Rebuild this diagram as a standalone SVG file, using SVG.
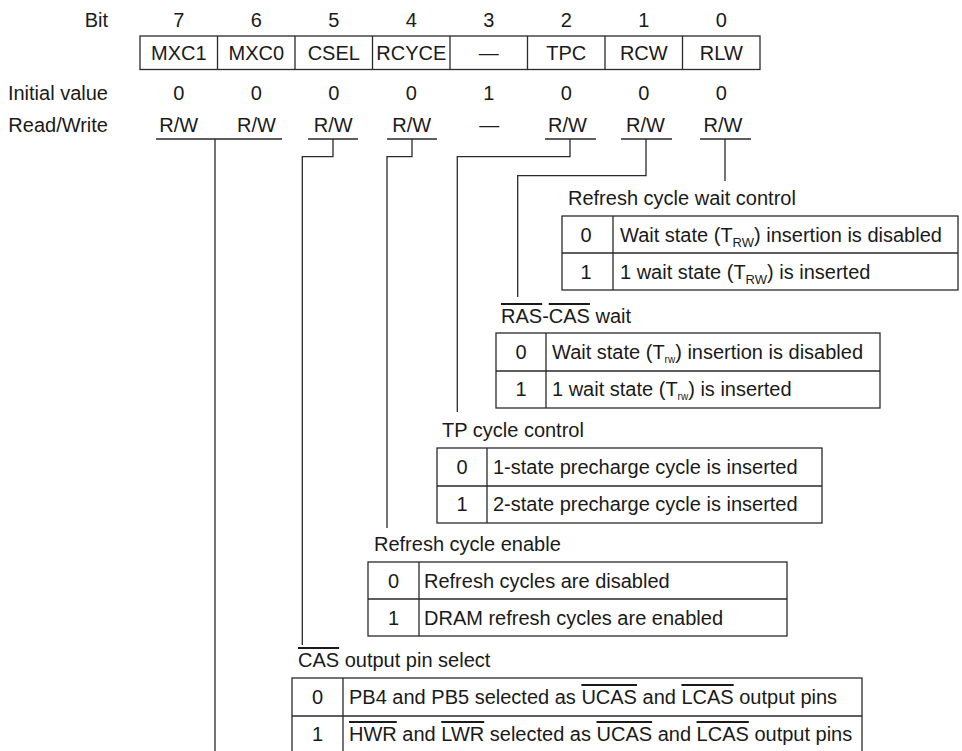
<svg xmlns="http://www.w3.org/2000/svg" width="962" height="751" viewBox="0 0 962 751">
<style>
text{font-family:"Liberation Sans",Arial,sans-serif;font-size:20px;fill:#1a1a1a}
.c{text-anchor:middle}
.e{text-anchor:end}
.ln{fill:none;stroke:#2a2a2a;stroke-width:1.3}
.bx{fill:#fff;stroke:#2a2a2a;stroke-width:1.3}
.ov{text-decoration:overline}
.sb{font-size:13px}
.sm{font-size:10px}
</style>
<rect width="962" height="751" fill="#fff"/>
<g id="register">
<text class="e" x="108" y="27">Bit</text>
<text class="c" x="178.8" y="27">7</text>
<text class="c" x="256.3" y="27">6</text>
<text class="c" x="333.8" y="27">5</text>
<text class="c" x="411.3" y="27">4</text>
<text class="c" x="488.8" y="27">3</text>
<text class="c" x="566.3" y="27">2</text>
<text class="c" x="643.8" y="27">1</text>
<text class="c" x="721.3" y="27">0</text>
<rect class="bx" x="140" y="36" width="620" height="33.5"/>
<path class="ln" d="M217.5 36V69.5M295 36V69.5M372.5 36V69.5M450 36V69.5M527.5 36V69.5M605 36V69.5M682.5 36V69.5"/>
<text class="c" x="178.8" y="59.5">MXC1</text>
<text class="c" x="256.3" y="59.5">MXC0</text>
<text class="c" x="333.8" y="59.5">CSEL</text>
<text class="c" x="411.3" y="59.5">RCYCE</text>
<text class="c" x="488.8" y="59.5">—</text>
<text class="c" x="566.3" y="59.5">TPC</text>
<text class="c" x="643.8" y="59.5">RCW</text>
<text class="c" x="721.3" y="59.5">RLW</text>
<text class="e" x="108" y="100">Initial value</text>
<text class="c" x="178.8" y="100">0</text>
<text class="c" x="256.3" y="100">0</text>
<text class="c" x="333.8" y="100">0</text>
<text class="c" x="411.3" y="100">0</text>
<text class="c" x="488.8" y="100">1</text>
<text class="c" x="566.3" y="100">0</text>
<text class="c" x="643.8" y="100">0</text>
<text class="c" x="721.3" y="100">0</text>
<text class="e" x="108" y="132">Read/Write</text>
<text class="c" x="178.8" y="132">R/W</text>
<text class="c" x="256.5" y="132">R/W</text>
<text class="c" x="333.3" y="132">R/W</text>
<text class="c" x="411.8" y="132">R/W</text>
<text class="c" x="489.3" y="132">—</text>
<text class="c" x="567.5" y="132">R/W</text>
<text class="c" x="645.5" y="132">R/W</text>
<text class="c" x="723" y="132">R/W</text>
</g>
<g id="connectors">
<path class="ln" d="M156 139H282M215 139V751"/>
<path class="ln" d="M308 139H358M333 139V156.7H302.3V645"/>
<path class="ln" d="M387 139H437M412 139V156.7H387V528"/>
<path class="ln" d="M545 139H596M570 139V156.7H457.3V412"/>
<path class="ln" d="M621 139H672M646 139V175.7H517.7V297"/>
<path class="ln" d="M700 139H751M725 139V181"/>
</g>
<g id="rlw-table">
<text x="568" y="205">Refresh cycle wait control</text>
<rect class="bx" x="562" y="216" width="396" height="74"/>
<path class="ln" d="M562 253H958M613 216V290"/>
<text class="c" x="586" y="242">0</text>
<text x="620" y="242">Wait state (T<tspan class="sb" dy="5">RW</tspan><tspan dy="-5">) insertion is disabled</tspan></text>
<text class="c" x="586" y="279">1</text>
<text x="620" y="279">1 wait state (T<tspan class="sb" dy="5">RW</tspan><tspan dy="-5">) is inserted</tspan></text>
</g>
<g id="rcw-table">
<text x="501" y="323"><tspan class="ov">RAS</tspan>-<tspan class="ov">CAS</tspan> wait</text>
<rect class="bx" x="496" y="333" width="384" height="75"/>
<path class="ln" d="M496 371H880M546 333V408"/>
<text class="c" x="521" y="359">0</text>
<text x="552" y="359">Wait state (T<tspan class="sm" dy="4">rw</tspan><tspan dy="-4">) insertion is disabled</tspan></text>
<text class="c" x="521" y="396">1</text>
<text x="552" y="396">1 wait state (T<tspan class="sm" dy="4">rw</tspan><tspan dy="-4">) is inserted</tspan></text>
</g>
<g id="tpc-table">
<text x="442" y="437">TP cycle control</text>
<rect class="bx" x="437" y="448" width="385" height="75"/>
<path class="ln" d="M437 486H822M487 448V523"/>
<text class="c" x="462" y="474">0</text>
<text x="493" y="474">1-state precharge cycle is inserted</text>
<text class="c" x="462" y="511">1</text>
<text x="493" y="511">2-state precharge cycle is inserted</text>
</g>
<g id="rcyce-table">
<text x="374" y="551">Refresh cycle enable</text>
<rect class="bx" x="368" y="562" width="419" height="74"/>
<path class="ln" d="M368 599H787M419 562V636"/>
<text class="c" x="393.5" y="588">0</text>
<text x="424" y="588">Refresh cycles are disabled</text>
<text class="c" x="393.5" y="625">1</text>
<text x="424" y="625">DRAM refresh cycles are enabled</text>
</g>
<g id="csel-table">
<text x="298" y="667"><tspan class="ov">CAS</tspan> output pin select</text>
<rect class="bx" x="292" y="678" width="570" height="76"/>
<path class="ln" d="M292 716H862M343 678V754"/>
<text class="c" x="317.5" y="704">0</text>
<text x="349" y="704">PB4 and PB5 selected as <tspan class="ov">UCAS</tspan> and <tspan class="ov">LCAS</tspan> output pins</text>
<text class="c" x="317.5" y="741">1</text>
<text x="349" y="741"><tspan class="ov">HWR</tspan> and <tspan class="ov">LWR</tspan> selected as <tspan class="ov">UCAS</tspan> and <tspan class="ov">LCAS</tspan> output pins</text>
</g>
</svg>
